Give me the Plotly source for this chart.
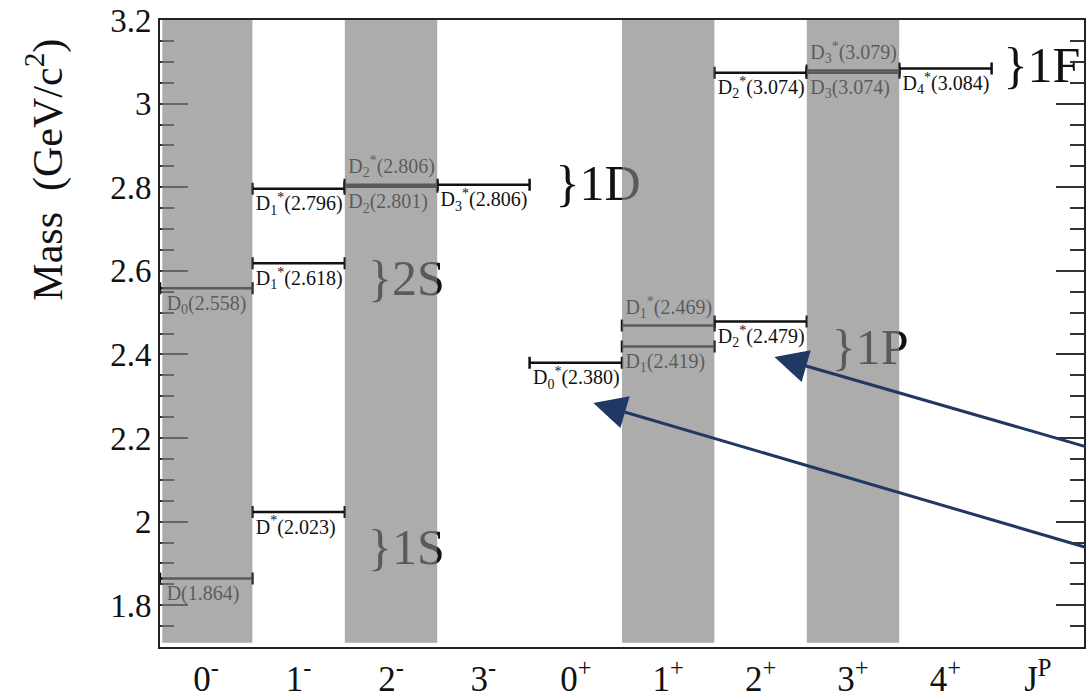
import plotly.graph_objects as go

# J^P columns along the x axis
jp_labels = ["0<sup>-</sup>", "1<sup>-</sup>", "2<sup>-</sup>", "3<sup>-</sup>",
             "0<sup>+</sup>", "1<sup>+</sup>", "2<sup>+</sup>", "3<sup>+</sup>",
             "4<sup>+</sup>", "J<sup>P</sup>"]
shaded_columns = [0, 2, 5, 7]

# charmed-meson levels: name, J^P column, mass (GeV/c^2), label side
level_names = ["D", "D<sub>0</sub>", "D<sup>*</sup>", "D<sub>1</sub><sup>*</sup>",
               "D<sub>1</sub><sup>*</sup>", "D<sub>2</sub><sup>*</sup>", "D<sub>2</sub>",
               "D<sub>3</sub><sup>*</sup>", "D<sub>0</sub><sup>*</sup>",
               "D<sub>1</sub><sup>*</sup>", "D<sub>1</sub>", "D<sub>2</sub><sup>*</sup>",
               "D<sub>2</sub><sup>*</sup>", "D<sub>3</sub><sup>*</sup>", "D<sub>3</sub>",
               "D<sub>4</sub><sup>*</sup>"]
level_column = [0, 0, 1, 1, 1, 2, 2, 3, 4, 5, 5, 6, 6, 7, 7, 8]
level_mass = [1.864, 2.558, 2.023, 2.618, 2.796, 2.806, 2.801, 2.806,
              2.380, 2.469, 2.419, 2.479, 3.074, 3.079, 3.074, 3.084]
label_side = ["below", "below", "below", "below", "below", "above", "below", "below",
              "below", "above", "below", "below", "below", "above", "below", "below"]

# multiplet tags: text, column position, mass
multiplet_text = ["}1S", "}2S", "}1D", "}1P", "}1F"]
multiplet_x = [2.25, 2.25, 4.28, 7.27, 9.13]
multiplet_mass = [1.929, 2.573, 2.800, 2.406, 3.081]

SERIF = "Liberation Serif, Times New Roman, serif"
NAVY = "#1f3864"

fig = go.Figure()

# each level is a horizontal bar spanning its J^P column, with end caps
for name, col, m, side in zip(level_names, level_column, level_mass, label_side):
    fig.add_trace(go.Scatter(
        x=[col + 0.5], y=[m], mode="markers",
        marker=dict(size=1, color="rgba(0,0,0,0)"),
        error_x=dict(type="data", array=[0.5], symmetric=True,
                     width=6, thickness=2.5, color="#111"),
        showlegend=False, hoverinfo="skip"))
    fig.add_trace(go.Scatter(
        x=[max(col - 0.035, 0.0)], y=[m], mode="markers+text",
        marker=dict(size=9, color="rgba(0,0,0,0)"),
        text=[f"{name}({m:.3f})"],
        textposition="top right" if side == "above" else "bottom right",
        textfont=dict(family=SERIF, size=20, color="#111"),
        showlegend=False, hoverinfo="skip", cliponaxis=False))

fig.add_trace(go.Scatter(
    x=multiplet_x, y=multiplet_mass, mode="text", text=multiplet_text,
    textposition="middle right",
    textfont=dict(family=SERIF, size=50, color="#111"),
    showlegend=False, hoverinfo="skip"))

# translucent grey columns laid over the levels
for c in shaded_columns:
    fig.add_shape(type="rect", xref="x", yref="y",
                  x0=c + (0.025 if c == 0 else 0.0), x1=c + 1,
                  y0=1.71, y1=3.2, layer="above",
                  fillcolor="rgba(129,129,129,0.66)", line=dict(width=0))

# arrows pointing at D0*(2.380) and D2*(2.479)
arrow_heads = [(6.65, 2.394), (4.69, 2.284)]
arrow_tails = [(10.15, 2.171), (10.15, 1.930)]
for (hx, hy), (tx, ty) in zip(arrow_heads, arrow_tails):
    fig.add_annotation(x=hx, y=hy, ax=tx, ay=ty, xref="x", yref="y",
                       axref="x", ayref="y", text="", showarrow=True,
                       arrowhead=2, arrowsize=2.2, arrowwidth=3,
                       arrowcolor=NAVY, standoff=0)

fig.add_annotation(text="Mass  (GeV/c<sup>2</sup>)", xref="paper", yref="paper",
                   x=-0.124, y=0.762, textangle=-90, showarrow=False,
                   xanchor="center", yanchor="middle",
                   font=dict(family=SERIF, size=42, color="#111"))

fig.update_xaxes(range=[0, 10], tickmode="array",
                 tickvals=[i + 0.5 for i in range(10)], ticktext=jp_labels,
                 ticks="", showgrid=False, zeroline=False,
                 showline=True, linecolor="#222", linewidth=2, mirror=True,
                 tickfont=dict(family=SERIF, size=35, color="#111"))
fig.update_yaxes(range=[1.7, 3.2], tickmode="array",
                 tickvals=[1.8, 2.0, 2.2, 2.4, 2.6, 2.8, 3.0, 3.2],
                 ticktext=["1.8", "2", "2.2", "2.4", "2.6", "2.8", "3", "3.2"],
                 ticks="inside", ticklen=28, tickwidth=1.5, tickcolor="#333",
                 minor=dict(ticks="inside", ticklen=14, tickwidth=1.5,
                            tickcolor="#333", dtick=0.05, tick0=1.7),
                 showgrid=False, zeroline=False,
                 showline=True, linecolor="#222", linewidth=2, mirror="ticks",
                 tickfont=dict(family=SERIF, size=33, color="#111"))

fig.update_layout(width=1086, height=699,
                  margin=dict(l=160, r=0, t=20, b=49),
                  plot_bgcolor="white", paper_bgcolor="white")

fig.write_html("out.html")
